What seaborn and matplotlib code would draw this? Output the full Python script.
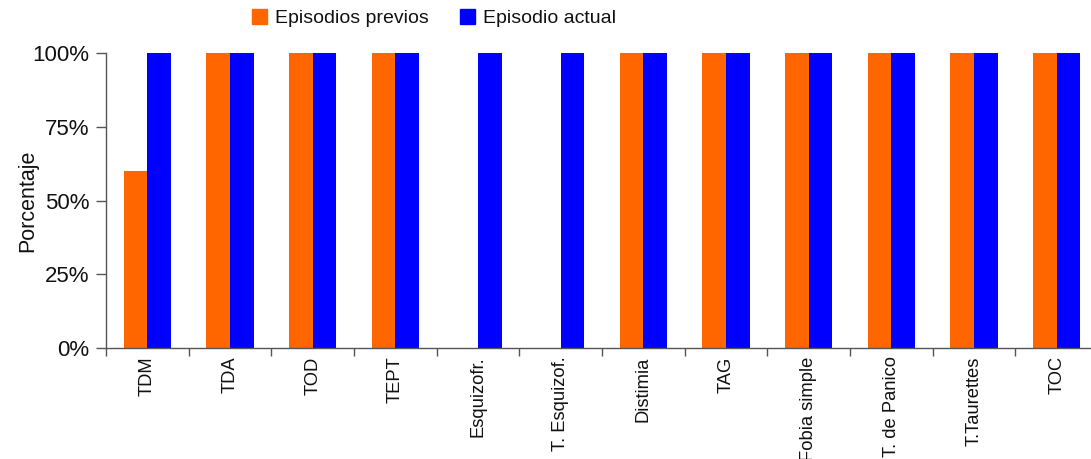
import numpy as np
import pandas as pd
import matplotlib
matplotlib.use("Agg")
import matplotlib.pyplot as plt
import seaborn as sns

categories = ["TDM", "TDA", "TOD", "TEPT", "Esquizofr.", "T. Esquizof.",
              "Distimia", "TAG", "Fobia simple", "T. de Panico",
              "T.Taurettes", "TOC"]
previos = [60, 100, 100, 100, 0, 0, 100, 100, 100, 100, 100, 100]
actual = [100, 100, 100, 100, 100, 100, 100, 100, 100, 100, 100, 100]
series_names = ["Episodios previos", "Episodio actual"]
colors = ["#FF6600", "#0000FF"]
yticks = [0, 25, 50, 75, 100]

sns.set_theme(style="white")
plt.rcParams["font.family"] = ["Liberation Sans", "DejaVu Sans"]

df = pd.DataFrame({
    "Trastorno": categories * 2,
    "Serie": [series_names[0]] * len(categories) + [series_names[1]] * len(categories),
    "Valor": previos + actual,
})

fig = plt.figure(figsize=(10.91, 4.59), dpi=100)
ax = fig.add_axes([106 / 1091, 1 - 348 / 459, (1098 - 106) / 1091, (348 - 53.3) / 459])

sns.barplot(data=df, x="Trastorno", y="Valor", hue="Serie", order=categories,
            hue_order=series_names, palette=colors, width=0.57, gap=0,
            saturation=1, errorbar=None, ax=ax, legend=False, linewidth=0)

ax.set_ylim(0, 100)
ax.set_xlim(-0.5, len(categories) - 0.5)
ax.set_yticks(yticks)
ax.set_yticklabels([f"{v}%" for v in yticks], fontsize=16, color="#111111")
ax.set_ylabel("Porcentaje", fontsize=15.5, labelpad=-4, color="#111111")
ax.set_xlabel("")

# Ticks at category boundaries, labels centred below each group
ax.set_xticks(np.arange(-0.5, len(categories) + 0.5, 1.0))
ax.set_xticklabels([])
ax.set_xticks(np.arange(len(categories)), minor=True)
ax.set_xticklabels(categories, minor=True, rotation=90, fontsize=13.2, va="top",
                   color="#111111")
ax.tick_params(axis="x", which="major", direction="out", length=6, width=1,
               color="#555555", bottom=True)
ax.tick_params(axis="x", which="minor", length=0, pad=6, bottom=True)
ax.tick_params(axis="y", direction="out", length=7, width=1, color="#555555",
               left=True, pad=5)

for side in ["top", "right"]:
    ax.spines[side].set_visible(False)
for side in ["left", "bottom"]:
    ax.spines[side].set_color("#555555")
    ax.spines[side].set_linewidth(1)

handles = [plt.Rectangle((0, 0), 1, 1, color=c) for c in colors]
fig.legend(handles, series_names, loc="center", bbox_to_anchor=(434 / 1091, 1 - 18 / 459),
           ncol=2, frameon=False, fontsize=14, handlelength=0.8, handleheight=0.8,
           handletextpad=0.4, columnspacing=1.6, labelcolor="#111111")

fig.savefig("out.png", dpi=100)
